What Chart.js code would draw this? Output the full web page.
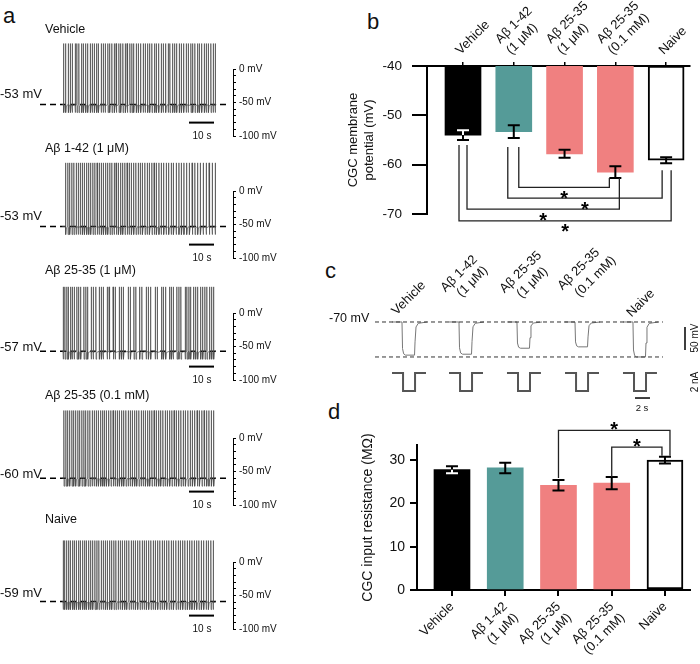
<!DOCTYPE html>
<html>
<head>
<meta charset="utf-8">
<script src="https://cdn.jsdelivr.net/npm/chart.js@4.4.1/dist/chart.umd.min.js"></script>
<style>
  body { margin: 0; background: #fff; }
  #fig { position: relative; width: 700px; height: 664px; overflow: hidden;
         font-family: "Liberation Sans", Arial, Helvetica, sans-serif; color: #111; }
  #fig canvas { position: absolute; }
  .t { position: absolute; white-space: nowrap; line-height: 1; }
</style>
</head>
<body>
<div id="fig"></div>
<script>
/* ── Data ───────────────────────────────────────────────────── */
const GROUPS = ['Vehicle', 'Aβ 1-42 (1 μM)', 'Aβ 25-35 (1 μM)', 'Aβ 25-35 (0.1 mM)', 'Naive'];
const GROUP_LINES = [['Vehicle'], ['Aβ 1-42', '(1 μM)'], ['Aβ 25-35', '(1 μM)'], ['Aβ 25-35', '(0.1 mM)'], ['Naive']];

// panel a: resting potential (mV), spike peak (mV), spike times (s)
const REST_MV = [-53, -53, -57, -60, -59];
const PEAK_MV = [38, 42, 39, 41, 32];
const SPIKES_VEH = [0.2, 1.0, 2.1, 2.9, 3.6, 4.8, 5.5, 6.3, 7.4, 8.1, 9.0, 9.8, 10.9, 11.6, 12.5, 13.4, 14.1, 15.2, 16.0, 16.8,
  17.9, 18.6, 19.5, 20.5, 21.2, 22.3, 23.0, 23.9, 24.9, 25.6, 26.7, 27.5, 28.2, 29.3, 30.1, 31.0, 32.0, 32.8, 33.8, 34.6,
  35.5, 36.6, 37.3, 38.2, 39.3, 40.0, 41.0, 42.0, 42.7, 43.8, 44.6, 45.4, 46.5, 47.3, 48.2, 49.2, 50.0, 51.1, 51.8, 52.7,
  53.8, 54.5, 55.4, 56.5, 57.2, 58.1, 59.1, 60.0, 60.8];
const SPIKES_AB142 = [1.0, 1.9, 2.6, 3.5, 4.3, 5.2, 6.0, 6.8, 7.7, 8.5, 9.4, 10.2, 11.0, 11.9, 12.7, 13.6, 14.4, 15.3, 16.1,
  17.0, 17.8, 18.7, 19.5, 20.4, 21.2, 22.1, 23.0, 23.8, 24.7, 25.6, 26.4, 27.3, 28.2, 29.1, 30.0, 30.8, 31.7, 32.7, 33.6,
  34.5, 35.5, 36.4, 37.3, 38.3, 39.2, 40.2, 41.2, 42.2, 43.2, 44.1, 45.2, 46.3, 47.3, 48.3, 49.4, 50.5, 51.6, 52.7, 53.8,
  54.9, 56.0, 57.2, 58.4, 59.6, 60.8];
const SPIKES_AB2535_1 = [0.0, 0.7, 1.5, 2.1, 3.0, 3.6, 4.4, 5.5, 6.2, 7.0, 8.3, 9.1, 9.8, 11.2, 12.0, 13.1, 14.5, 15.3, 16.0,
  17.6, 18.4, 20.0, 20.8, 22.5, 23.3, 24.1, 26.0, 26.9, 28.3, 29.1, 30.6, 31.5, 33.2, 34.1, 35.0, 36.8, 37.6, 39.4, 40.1,
  41.0, 42.6, 43.3, 44.0, 45.5, 46.3, 47.1, 48.8, 49.5, 50.3, 51.0, 52.2, 53.0, 53.8, 55.0, 55.8, 56.7, 57.5, 58.6, 59.4, 60.2];
const SPIKES_AB2535_01 = [0.3, 1.1, 1.8, 2.6, 3.5, 4.2, 5.0, 5.9, 6.6, 7.5, 8.3, 9.0, 9.9, 10.7, 11.6, 12.4, 13.3, 14.1, 15.0,
  15.8, 16.5, 17.3, 18.2, 19.1, 20.0, 20.8, 21.7, 22.5, 23.4, 24.2, 25.1, 26.0, 26.8, 27.7, 28.6, 29.4, 30.3, 31.2, 32.0,
  32.9, 33.8, 34.6, 35.5, 36.4, 37.3, 38.2, 39.0, 39.9, 40.8, 41.7, 42.6, 43.5, 44.4, 45.3, 46.2, 47.1, 48.0, 48.9, 49.9,
  50.8, 51.7, 52.6, 53.6, 54.5, 55.5, 56.4, 57.4, 58.3, 59.3, 60.2];
const SPIKES_NAIVE = [0.0, 0.6, 1.4, 2.2, 2.9, 3.8, 4.5, 5.3, 6.2, 6.9, 7.8, 8.6, 9.3, 10.2, 11.0, 11.8, 12.7, 13.5, 14.3, 15.2,
  16.0, 16.9, 17.7, 18.6, 19.4, 20.3, 21.1, 22.0, 22.8, 23.7, 24.6, 25.4, 26.3, 27.2, 28.0, 28.9, 29.8, 30.7, 31.6, 32.4,
  33.3, 34.2, 35.1, 36.0, 36.9, 37.8, 38.7, 39.6, 40.5, 41.4, 42.3, 43.2, 44.1, 45.1, 46.0, 46.9, 47.8, 48.7, 49.7, 50.6,
  51.5, 52.5, 53.4, 54.3, 55.3, 56.2, 57.2, 58.1, 59.1, 60.0];
const SPIKES = [SPIKES_VEH, SPIKES_AB142, SPIKES_AB2535_1, SPIKES_AB2535_01, SPIKES_NAIVE];
const TRACE_TICKS_MV = [0, -10, -20, -30, -40, -50, -60, -70, -80, -90, -100];
const TRACE_LABELED_MV = [0, -50, -100];

// panel b: membrane potential
const MP_MEAN = [-54.0, -53.3, -57.8, -61.5, -59.1];
const MP_SEM = [1.0, 1.3, 0.8, 1.2, 0.6];
const MP_TICKS = [-40, -50, -60, -70];
const MP_SIG = [[1, 3], [1, 4], [0, 3], [0, 4]];

// panel c: hyperpolarising steps (-2 nA), deflection from -70 mV
const STEP_HOLD_MV = -70;
const STEP_DROP_MV = [72, 70, 57, 54, 76];
const STEP_CURRENT_NA = -2;

// panel d: input resistance
const RIN_MEAN = [27.8, 28.2, 24.2, 24.7, 30.0];
const RIN_SEM = [0.8, 1.2, 1.2, 1.4, 0.8];
const RIN_TICKS = [0, 10, 20, 30];
const RIN_SIG = [[2, 4], [3, 4]];

/* ── Style ─────────────────────────────────────────────────── */
const FONT = '"Liberation Sans", Arial, Helvetica, sans-serif';
const BAR_COLORS = ['#000000', '#559b98', '#f08080', '#f08080', '#ffffff'];
const BAR_DARK = [true, false, false, false, false];
const BAR_BORDER = [0, 0, 0, 0, 2];
Chart.defaults.font.family = FONT;
Chart.defaults.color = '#111';

const fig = document.getElementById('fig');
const BASE = { responsive: false, animation: false, devicePixelRatio: 1 };
const NO_PLUGINS = { legend: { display: false }, tooltip: { enabled: false } };

// pin an axis box size and drop the label overflow padding Chart.js adds
const pinX = h => s => { s.height = h; s.paddingLeft = 0; s.paddingRight = 0; };
const pinY = w => s => { s.width = w; s.paddingTop = 0; s.paddingBottom = 0; };

function addCanvas(left, top, w, h) {
  const c = document.createElement('canvas');
  c.width = w; c.height = h;
  c.style.left = left + 'px'; c.style.top = top + 'px';
  fig.appendChild(c);
  return c;
}

// text centred vertically on y (or on x,y when centre)
function text(str, x, y, size, opts = {}) {
  const d = document.createElement('div');
  d.className = 't';
  d.textContent = str;
  d.style.left = x + 'px';
  d.style.top = y + 'px';
  d.style.fontSize = size + 'px';
  let tf = opts.centre ? 'translate(-50%,-50%)' : 'translate(0,-50%)';
  if (opts.rotate) tf += ` rotate(${opts.rotate}deg)`;
  d.style.transform = tf;
  fig.appendChild(d);
}

// text rotated -45deg, starting at its bottom-left corner (x, y)
function diag(str, x, y, size) {
  const d = document.createElement('div');
  d.className = 't';
  d.textContent = str;
  d.style.left = x + 'px';
  d.style.top = (y - size) + 'px';
  d.style.fontSize = size + 'px';
  d.style.transformOrigin = '0 100%';
  d.style.transform = 'rotate(-45deg)';
  fig.appendChild(d);
}

/* ── Panel letters ─────────────────────────────────────────── */
text('a', 3, 16, 22);
text('b', 367, 22, 22);
text('c', 325, 271, 22);
text('d', 328, 412, 22);

/* ══════════════════════════════════════════════════════════════
   Panel a — spike trains
   ══════════════════════════════════════════════════════════════ */
const TRACE_Y0 = [69, 191, 313, 438, 562];          // pixel row of 0 mV
const TRACE_TITLE_Y = [29, 148, 270, 395, 519];
const TRACE_REST_Y = [93, 215, 346, 473, 592];

function traceChart(i) {
  const y0 = TRACE_Y0[i];
  const rest = REST_MV[i], peak = PEAK_MV[i];
  const pts = [{ x: -0.3, y: rest }];
  SPIKES[i].forEach(t => {
    pts.push({ x: t, y: rest }, { x: t + 0.03, y: peak }, { x: t + 0.1, y: rest - 12 }, { x: t + 0.35, y: rest - 2 });
  });
  pts.push({ x: 61.2, y: rest });

  const canvas = addCanvas(0, y0 - 40, 300, 124);
  new Chart(canvas, {
    type: 'line',
    data: {
      datasets: [
        { data: [{ x: -9.2, y: rest }, { x: 66, y: rest }], borderColor: '#000', borderWidth: 1.6,
          borderDash: [6, 4], pointRadius: 0, clip: false, order: 2 },
        { data: pts, borderColor: '#4a4a4a', borderWidth: 0.7, borderJoinStyle: 'bevel',
          pointRadius: 0, clip: false, order: 1 },
        { data: [{ x: 50.4, y: -80 }, { x: 60.4, y: -80 }], borderColor: '#000', borderWidth: 2,
          pointRadius: 0, order: 0 },
      ],
    },
    options: {
      ...BASE,
      layout: { padding: { left: 40, top: 40, bottom: 17, right: 0 } },
      plugins: NO_PLUGINS,
      scales: {
        x: { type: 'linear', display: false, min: -9.2, max: 68 },
        y: {
          position: 'right', min: -100, max: 0,
          afterBuildTicks: s => { s.ticks = TRACE_TICKS_MV.map(v => ({ value: v })); },
          afterFit: pinY(67),
          border: { color: '#000', width: 1 },
          grid: { drawOnChartArea: false, tickLength: 3, color: '#000', lineWidth: 1 },
          ticks: { autoSkip: false, padding: 3, color: '#111', font: { size: 10 },
                   callback: v => TRACE_LABELED_MV.includes(v) ? v + ' mV' : '' },
        },
      },
    },
  });

  text(GROUPS[i], 45, TRACE_TITLE_Y[i], 12.5);
  text(REST_MV[i] + ' mV', 0, TRACE_REST_Y[i], 13);
  text('10 s', 202, y0 + 67, 10, { centre: true });
}
for (let i = 0; i < 5; i++) traceChart(i);

/* ══════════════════════════════════════════════════════════════
   Error bars + significance brackets (shared by b and d)
   ══════════════════════════════════════════════════════════════ */
const statsPlugin = {
  id: 'stats',
  afterDatasetsDraw(chart, args, o) {
    const { ctx, scales: { x, y } } = chart;
    const bars = chart.getDatasetMeta(0).data;
    ctx.save();
    o.means.forEach((m, i) => {
      const px = x.getPixelForValue(i);
      const yHi = y.getPixelForValue(m + o.sems[i]);
      const yLo = y.getPixelForValue(m - o.sems[i]);
      const draw = color => {
        ctx.strokeStyle = color; ctx.lineWidth = 2;
        ctx.beginPath();
        ctx.moveTo(px, yHi); ctx.lineTo(px, yLo);
        ctx.moveTo(px - 6, yHi); ctx.lineTo(px + 6, yHi);
        ctx.moveTo(px - 6, yLo); ctx.lineTo(px + 6, yLo);
        ctx.stroke();
      };
      draw('#000');
      if (o.dark[i]) {
        const b = bars[i];
        ctx.save();
        ctx.beginPath();
        ctx.rect(b.x - b.width / 2, Math.min(b.y, b.base), b.width, Math.abs(b.base - b.y));
        ctx.clip();
        draw('#fff');
        ctx.restore();
      }
    });

    ctx.strokeStyle = '#222';
    ctx.lineWidth = 1.3;
    ctx.fillStyle = '#000';
    ctx.font = 'bold 20px ' + FONT;
    ctx.textAlign = 'center';
    ctx.textBaseline = 'alphabetic';
    o.brackets.forEach(br => {
      const yl = y.getPixelForValue(br.level);
      const end = (idx, dx, gap) => {
        const m = o.means[idx];
        const edge = br.level < m ? m - o.sems[idx] : m + o.sems[idx];
        const ye = y.getPixelForValue(edge);
        return { x: x.getPixelForValue(idx) + dx, y: ye + Math.sign(yl - ye) * gap };
      };
      const a = end(br.pair[0], br.dx[0], br.gap[0]);
      const b = end(br.pair[1], br.dx[1], br.gap[1]);
      ctx.beginPath();
      ctx.moveTo(a.x, a.y); ctx.lineTo(a.x, yl); ctx.lineTo(b.x, yl); ctx.lineTo(b.x, b.y);
      ctx.stroke();
      const starY = yl + br.starDy;
      ctx.fillText('*', (a.x + b.x) / 2, starY + 11.5);
    });
    ctx.restore();
  },
};

/* ══════════════════════════════════════════════════════════════
   Panel b — membrane potential
   ══════════════════════════════════════════════════════════════ */
(function panelB() {
  const canvas = addCanvas(330, 0, 370, 250);
  const MP_BRACKET_LEVEL = [-64.6, -66.8, -69.0, -71.4];
  const MP_BRACKET_DX = [[5, -6], [-6, -4], [4, 4], [-4, 5]];
  const MP_BRACKET_GAP = [[9, 0], [9, 7], [5, 0], [5, 7]];
  new Chart(canvas, {
    type: 'bar',
    data: {
      datasets: [{
        data: MP_MEAN.map((m, i) => ({ x: i, y: [-40, m] })),
        backgroundColor: BAR_COLORS,
        borderColor: '#000',
        borderWidth: BAR_BORDER,
        borderSkipped: false,
        barThickness: 36,
      }],
    },
    options: {
      ...BASE,
      layout: { padding: { left: 16, right: 10, top: 0, bottom: 36 } },
      plugins: {
        ...NO_PLUGINS,
        stats: {
          means: MP_MEAN, sems: MP_SEM, dark: BAR_DARK,
          brackets: MP_SIG.map((pair, k) => ({
            pair, level: MP_BRACKET_LEVEL[k], dx: MP_BRACKET_DX[k], gap: MP_BRACKET_GAP[k], starDy: 6,
          })),
        },
      },
      scales: {
        x: {
          type: 'linear', position: 'top', min: -0.709, max: 4.47, offset: false,
          afterBuildTicks: s => { s.ticks = GROUPS.map((g, i) => ({ value: i })); },
          afterFit: pinX(66),
          border: { color: '#000', width: 2 },
          grid: { offset: false, drawOnChartArea: false, tickLength: 4, color: '#000', lineWidth: 1.5 },
          ticks: { autoSkip: false, minRotation: 45, maxRotation: 45, padding: 4, labelOffset: 6,
                   font: { size: 13 }, callback: v => GROUP_LINES[v] },
        },
        y: {
          min: -70, max: -40,
          afterBuildTicks: s => { s.ticks = MP_TICKS.map(v => ({ value: v })); },
          afterFit: pinY(81),
          border: { color: '#000', width: 2 },
          grid: { drawOnChartArea: false, tickLength: 15, color: '#000', lineWidth: 2 },
          ticks: { padding: 10, font: { size: 13.5 } },
          title: { display: true, text: ['CGC membrane', 'potential (mV)'], font: { size: 13 },
                   padding: { top: 0, bottom: 0 } },
        },
      },
    },
    plugins: [statsPlugin],
  });
})();

/* ══════════════════════════════════════════════════════════════
   Panel c — responses to current steps
   ══════════════════════════════════════════════════════════════ */
(function panelC() {
  const canvas = addCanvas(320, 300, 380, 115);
  const OFFSET_S = [0, 7.6, 15.33, 23.07, 30.8];
  const V_SHAPE = [[0, 0], [1.33, 0], [1.4, 0.8], [1.55, 0.96], [1.8, 1], [3.0, 1], [3.07, 0.6],
                   [3.2, 0.15], [3.5, 0.04], [4.67, 0]];
  const I_SHAPE = [[0, 0], [1.47, 0], [1.47, 1], [3.07, 1], [3.07, 0], [4.53, 0]];
  const lower = STEP_HOLD_MV - Math.max(...STEP_DROP_MV);
  const line = (pts, extra) => Object.assign({ data: pts, pointRadius: 0, borderWidth: 1, tension: 0 }, extra);

  const sets = [
    line([{ x: -2.27, y: STEP_HOLD_MV }, { x: 36.13, y: STEP_HOLD_MV }],
         { borderColor: '#333', borderDash: [4, 3], yAxisID: 'y' }),
    line([{ x: -2.27, y: lower }, { x: 36.13, y: lower }],
         { borderColor: '#333', borderDash: [4, 3], yAxisID: 'y' }),
  ];
  STEP_DROP_MV.forEach((d, i) => {
    sets.push(line(V_SHAPE.map(([t, f]) => ({ x: OFFSET_S[i] + t, y: STEP_HOLD_MV - f * d })),
                   { borderColor: '#777', yAxisID: 'y' }));
    sets.push(line(I_SHAPE.map(([t, f]) => ({ x: OFFSET_S[i] + t, y: f * STEP_CURRENT_NA })),
                   { borderColor: '#555', borderWidth: 2, yAxisID: 'yI' }));
  });
  // scale bars: 50 mV and 2 s
  sets.push(line([{ x: 39.07, y: -80.9 }, { x: 39.07, y: -130.9 }], { borderColor: '#000', borderWidth: 1.5, yAxisID: 'y' }));
  sets.push(line([{ x: 32.4, y: -2.78 }, { x: 34.4, y: -2.78 }], { borderColor: '#000', borderWidth: 1.5, yAxisID: 'yI' }));

  new Chart(canvas, {
    type: 'line',
    data: { datasets: sets },
    options: {
      ...BASE,
      layout: { padding: { left: 55, right: 0, top: 15, bottom: 15 } },
      plugins: NO_PLUGINS,
      scales: {
        x: { type: 'linear', display: false, min: -2.27, max: 41.07 },
        y: { display: false, min: -239.5, max: -54.8 },
        yI: { display: false, min: -3, max: 6.44 },
      },
    },
  });

  text('-70 mV', 329, 318, 12.5);
  diag('Vehicle', 398, 317, 13);
  diag('Aβ 1-42', 447, 294, 13);
  diag('(1 μM)', 463, 299, 13);
  diag('Aβ 25-35', 506, 295, 13);
  diag('(1 μM)', 523, 300, 13);
  diag('Aβ 25-35', 564, 292, 13);
  diag('(0.1 mM)', 581, 299, 13);
  diag('Naive', 633, 319, 13);
  text('50 mV', 695, 338, 10, { centre: true, rotate: -90 });
  text('2 nA', 695, 382, 10, { centre: true, rotate: -90 });
  text('2 s', 642, 408, 9.5, { centre: true });
})();

/* ══════════════════════════════════════════════════════════════
   Panel d — input resistance
   ══════════════════════════════════════════════════════════════ */
(function panelD() {
  const canvas = addCanvas(320, 400, 380, 264);
  const RIN_BRACKET_LEVEL = [36.9, 33.0];
  const RIN_BRACKET_DX = [[0, 5], [0, -3]];
  const RIN_BRACKET_GAP = [[2, 1], [0, 1]];
  new Chart(canvas, {
    type: 'bar',
    data: {
      datasets: [{
        data: RIN_MEAN.map((m, i) => ({ x: i, y: m })),
        backgroundColor: BAR_COLORS,
        borderColor: '#000',
        borderWidth: BAR_BORDER,
        borderSkipped: false,
        barThickness: 36,
      }],
    },
    options: {
      ...BASE,
      layout: { padding: { left: 40, right: 10, top: 45, bottom: 0 } },
      plugins: {
        ...NO_PLUGINS,
        stats: {
          means: RIN_MEAN, sems: RIN_SEM, dark: BAR_DARK,
          brackets: RIN_SIG.map((pair, k) => ({
            pair, level: RIN_BRACKET_LEVEL[k], dx: RIN_BRACKET_DX[k], gap: RIN_BRACKET_GAP[k], starDy: -6,
          })),
        },
      },
      scales: {
        x: {
          type: 'linear', min: -0.657, max: 4.47, offset: false,
          afterBuildTicks: s => { s.ticks = GROUPS.map((g, i) => ({ value: i })); },
          afterFit: pinX(74),
          border: { color: '#000', width: 2 },
          grid: { offset: false, drawOnChartArea: false, tickLength: 6, color: '#000', lineWidth: 2 },
          ticks: { autoSkip: false, minRotation: 45, maxRotation: 45, padding: 3,
                   font: { size: 13 }, callback: v => GROUP_LINES[v] },
        },
        y: {
          min: 0, max: 33.5,
          afterBuildTicks: s => { s.ticks = RIN_TICKS.map(v => ({ value: v })); },
          afterFit: pinY(57),
          border: { color: '#000', width: 2 },
          grid: { drawOnChartArea: false, tickLength: 7, color: '#000', lineWidth: 2 },
          ticks: { padding: 5, font: { size: 14 } },
          title: { display: true, text: 'CGC input resistance (MΩ)', font: { size: 14 },
                   padding: { top: 0, bottom: 0 } },
        },
      },
    },
    plugins: [statsPlugin],
  });
})();
</script>
</body>
</html>
